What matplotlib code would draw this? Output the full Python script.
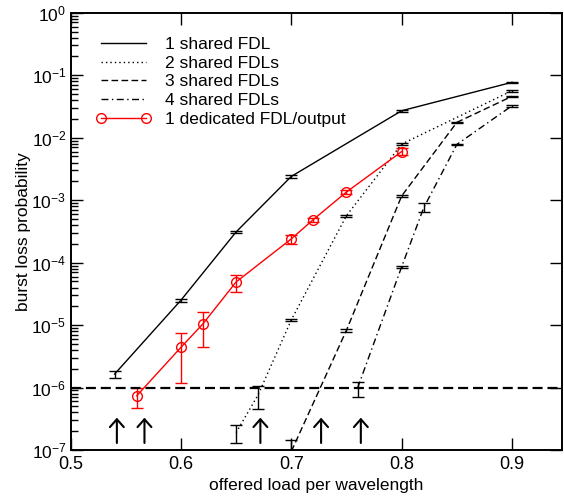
import matplotlib
matplotlib.use("Agg")
import matplotlib.pyplot as plt
from matplotlib.lines import Line2D
import numpy as np

plt.rcParams["font.family"] = ["Liberation Sans", "DejaVu Sans"]
plt.rcParams["mathtext.default"] = "regular"
plt.rcParams["font.size"] = 12.5

# ---------------------------------------------------------------------
# data (burst loss probability vs offered load)
# ---------------------------------------------------------------------
load_1 = [0.54, 0.60, 0.65, 0.70, 0.80, 0.90]
loss_1 = [1.65e-6, 2.5e-5, 3.1e-4, 2.4e-3, 2.7e-2, 7.7e-2]
err_1 = [2e-7, 1.5e-6, 1.5e-5, 1e-4, 1e-3, 2e-3]

load_2 = [0.65, 0.67, 0.70, 0.75, 0.80, 0.90]
loss_2 = [1.9e-7, 7.7e-7, 1.21e-5, 5.65e-4, 7.9e-3, 5.65e-2]
err_2 = [6e-8, 3.1e-7, 6e-7, 2e-5, 3e-4, 2e-3]

load_3 = [0.70, 0.75, 0.80, 0.85, 0.90]
loss_3 = [9.5e-8, 8.3e-6, 1.17e-3, 1.76e-2, 4.6e-2]
err_3 = [5e-8, 4e-7, 5e-5, 5e-4, 1e-3]

load_4 = [0.76, 0.80, 0.82, 0.85, 0.90]
loss_4 = [9.8e-7, 8.6e-5, 7.6e-4, 7.8e-3, 3.25e-2]
err_4 = [2.6e-7, 3e-6, 1.25e-4, 2e-4, 1e-3]

load_ded = [0.56, 0.60, 0.62, 0.65, 0.70, 0.72, 0.75, 0.80]
loss_ded = [7.4e-7, 4.4e-6, 1.05e-5, 4.9e-5, 2.4e-4, 4.9e-4, 1.35e-3, 6.0e-3]
err_ded = [2.6e-7, 3.2e-6, 6e-6, 1.5e-5, 4e-5, 3.5e-5, 1e-4, 8e-4]

labels = ["1 shared FDL", "2 shared FDLs", "3 shared FDLs", "4 shared FDLs",
          "1 dedicated FDL/output"]

target_loss = 1e-6
arrow_loads = [0.542, 0.567, 0.672, 0.727, 0.763]

# ---------------------------------------------------------------------
fig = plt.figure(figsize=(5.64, 4.99), dpi=100)
ax = fig.add_axes([0.125, 0.098, 0.871, 0.8765])

styles = ["-", (0, (1, 2.2)), (0, (4.8, 2.4)), (0, (5, 2.5, 1, 2.5))]
series = [(load_1, loss_1, err_1), (load_2, loss_2, err_2),
          (load_3, loss_3, err_3), (load_4, loss_4, err_4)]

common = dict(lw=1.0, capsize=4.5, elinewidth=1.0, capthick=1.0)
handles = []
for (x, y, e), ls, lab in zip(series, styles, labels):
    ax.errorbar(x, y, yerr=e, color="black", ls=ls, **common)
    handles.append(Line2D([], [], color="black", ls=ls, lw=1.0, label=lab))

ax.errorbar(load_ded, loss_ded, yerr=err_ded, color="red", ls="-",
            marker="o", ms=7, mfc="none", mec="red", mew=1.0, **common)
handles.append(Line2D([], [], color="red", ls="-", lw=1.0, marker="o", ms=7,
                      mfc="none", mec="red", mew=1.0, label=labels[4]))

ax.axhline(target_loss, color="black", lw=1.6, ls=(0, (4.5, 2.2)))

for x in arrow_loads:
    ax.annotate("", xy=(x, 3.3e-7), xytext=(x, 1.3e-7),
                arrowprops=dict(arrowstyle="->,head_length=0.45,head_width=0.4",
                                lw=1.5, color="black", shrinkA=0, shrinkB=0))

ax.set_yscale("log")
ax.set_xlim(0.5, 0.945)
ax.set_ylim(1e-7, 1)
ax.set_xticks([0.5, 0.6, 0.7, 0.8, 0.9])
ax.set_xlabel("offered load per wavelength", labelpad=4)
ax.set_ylabel("burst loss probability", labelpad=0)

ax.tick_params(which="major", direction="in", length=8.5, width=1.0,
               top=True, right=True, labelsize=13, pad=4)
ax.tick_params(axis="y", which="major", labelsize=12.5, pad=3)
ax.tick_params(which="minor", direction="in", length=4.8, width=1.0,
               top=False, right=False)
ax.xaxis.set_minor_locator(matplotlib.ticker.NullLocator())
for s in ax.spines.values():
    s.set_linewidth(1.4)

ax.legend(handles=handles, loc="upper left", bbox_to_anchor=(0.02, 0.98),
          frameon=False, handlelength=3.2, handletextpad=0.8,
          labelspacing=0.2, numpoints=2, fontsize=12.5)

fig.savefig("out.png", dpi=100)
